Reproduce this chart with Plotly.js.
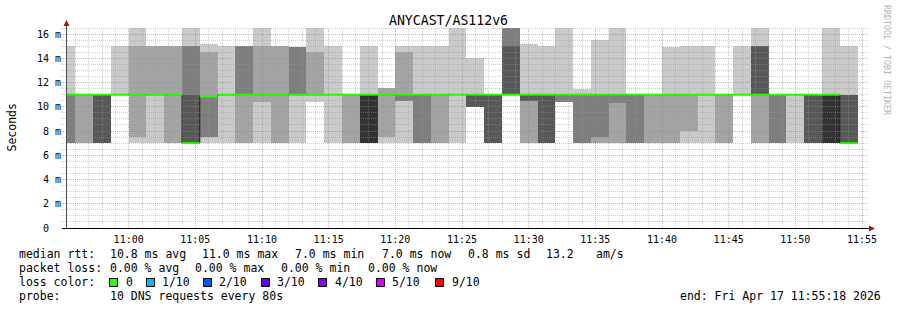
<!DOCTYPE html>
<html><head><meta charset="utf-8">
<script src="https://cdn.plot.ly/plotly-3.0.1.min.js"></script>
<style>html,body{margin:0;padding:0;background:#fff;}#chart{width:897px;height:310px;}</style>
</head><body><div id="chart"></div>
<script>
// ---- data ----
const dayUTC = [2026, 3, 17];
const rangeStart = '10:55:18';
const rangeEnd = '11:55:18';
const stepSeconds = 80;
const stepEnds = ['10:56:00','10:57:20','10:58:40','11:00:00','11:01:20','11:02:40','11:04:00','11:05:20','11:06:40','11:08:00',
 '11:09:20','11:10:40','11:12:00','11:13:20','11:14:40','11:16:00','11:17:20','11:18:40','11:20:00','11:21:20',
 '11:22:40','11:24:00','11:25:20','11:26:40','11:28:00','11:29:20','11:30:40','11:32:00','11:33:20','11:34:40',
 '11:36:00','11:37:20','11:38:40','11:40:00','11:41:20','11:42:40','11:44:00','11:45:20','11:46:40','11:48:00',
 '11:49:20','11:50:40','11:52:00','11:53:20','11:54:40'];
// 10 sorted ping round-trip times (ms) per step
const pingsSorted = [
 [7,7,7,11,11,11,11,11,11,15],
 [7,7,11,11,11,11,11,11,11,11],
 [7.05,7.05,7.05,7.05,11,11,11,11,11,11],
 [11,11,11,11,11,11,11,11,11,15],
 [7,7.5,11,11,11,11,11,11,15,16.5],
 [7,11,11,11,11,11,11,11,15,15],
 [7,7,11,11,11,11,11,11,15,15],
 [7,7,7,7,7,7,11,15,15,16.5],
 [7,7.5,7.5,10.85,10.85,10.85,10.85,10.85,14.5,15.15],
 [7,11,11,11,11,11,11,11,11,15],
 [7,7,11,11,11,11,11,15,15,15],
 [7,10.4,11,11,11,11,11,11,15,16.5],
 [7,7,11,11,11,11,11,11,15,15],
 [7,11,11,11,11,11,11,14.9,14.9,14.9],
 [10.4,11,11,11,11,11,11,11,14.5,16.5],
 [7,11,11,11,11,11,11,11,11,15],
 [7,7,11,11,11,11,11,11,11,11],
 [7,7,7,7,7,11,11,11,11,15],
 [7,7.5,11,11,11,11,11,11,11.55,11.55],
 [7,10.45,10.45,11,11,11,11,11,14.5,15],
 [7,7,7,11,11,11,11,11,11,15],
 [7,7,11,11,11,11,11,11,11,15],
 [7,11,11,11,11,11,11,11,11,16.5],
 [10,10,10,10,11,11,11,11,11,14],
 [7,7,7,7,11,11,11,11,11,11],
 [11,11,11,11,11,11,15,16.5,16.5,16.5],
 [7.05,7.05,10.45,10.45,11,11,11,11,11,15.15],
 [7,7,7,7,11,11,11,11,11,15],
 [10.4,10.4,10.4,11,11,11,11,11,11,16.5],
 [7,7,7,11,11,11,11,11,11,11.5],
 [7,7,7.5,11,11,11,11,11,11,15.5],
 [7,7,10.3,11,11,11,11,11,11,16.5],
 [7,7,7,11,11,11,11,11,11,11],
 [7,7,11,11,11,11,11,11,11,11],
 [7,7,11,11,11,11,11,11,11,14.9],
 [7,8,11,11,11,11,11,11,11,15],
 [7,11,11,11,11,11,11,11,11,15],
 [7,7,11,11,11,11,11,11,11,11],
 [11,11,11,11,11,11,11,11,11,15],
 [7,7,11,11,11,11,15,15,15,16.5],
 [7,7,7,11,11,11,11,11,11,11],
 [7,11,11,11,11,11,11,11,11,11],
 [7,7,7,7,11,11,11,11,11,11],
 [7,7,7,7,7,11,11,11,11,16.5],
 [7,7,7,7,7,7,11,11,11,15]
];
const medianRtt = [11,11,11,11,11,11,11,7,10.85,11, 11,11,11,11,11,11,11,11,11,11, 11,11,11,11,11,11,11,11,11,11,
 11,11,11,11,11,11,11,11,11,11, 11,11,11,11,7];
const lossPerStep = [0,0,0,0,0,0,0,0,0,0, 0,0,0,0,0,0,0,0,0,0, 0,0,0,0,0,0,0,0,0,0, 0,0,0,0,0,0,0,0,0,0, 0,0,0,0,0];
const lossLevels = [0,1,2,3,4,5,9];
const lossLabels = ['0','1/10','2/10','3/10','4/10','5/10','9/10'];
const lossColors = ['#26ff00','#00b8ff','#0059ff','#5e00ff','#7e00ff','#dd00ff','#ff0000'];
const smokeGrays = ['#cacaca','#a4a4a4','#7e7e7e','#585858','#323232'];
const yTickVals = [0,2,4,6,8,10,12,14,16];
const yTickText = ['0\u00a0\u00a0','2 m','4 m','6 m','8 m','10 m','12 m','14 m','16 m'];
const chartTitle = 'ANYCAST/AS112v6';
const yTitle = 'Seconds';
const statLines = [
 [['median rtt:',16.7],['10.8 ms avg',107.7],['11.0 ms max',200],['7.0 ms min',293],['7.0 ms now',380],['0.8 ms sd',466],['13.2',543.5],['am/s',593.5]],
 [['packet loss:',16.7],['0.00 % avg',107.7],['0.00 % max',193.3],['0.00 % min',279.3],['0.00 % now',365.7]],
 [['loss color:',16.7]],
 [['probe:',16.7],['10 DNS requests every 80s',107.7],['end: Fri Apr 17 11:55:18 2026',678.3]]
];
const lossLegendX = [109,145.7,202.7,260.7,318.3,375.7,435];

// ---- helpers ----
function t(hms){const [h,m,s]=hms.split(':').map(Number);return Date.UTC(dayUTC[0],dayUTC[1],dayUTC[2],h,m,s);}
const L=66, R=866, T=28, B=228, YMAX=16.5;
function px(x){return (x-L)/(R-L);}
function py(y){return (B-y)/(B-T);}

// ---- traces ----
const traces=[];
const stepMs = stepSeconds*1000;
for(let i=0;i<5;i++){
  const xs=[],base=[],h=[];
  pingsSorted.forEach((p,k)=>{xs.push(t(stepEnds[k])-stepMs/2);base.push(p[i]);h.push(p[9-i]-p[i]);});
  traces.push({type:'bar',x:xs,y:h,base:base,width:stepMs,marker:{color:smokeGrays[i],line:{width:0}},hoverinfo:'skip',showlegend:false});
}
const mx=[],my=[];
medianRtt.forEach((m,k)=>{const e=t(stepEnds[k]);mx.push(e-stepMs,e);my.push(m,m);});
traces.push({type:'scatter',mode:'lines',x:mx,y:my,line:{color:'#202020',width:1},hoverinfo:'skip',showlegend:false});
lossLevels.forEach((lv,li)=>{
  const gx=[],gy=[];
  medianRtt.forEach((m,k)=>{if(lossPerStep[k]===lv){const e=t(stepEnds[k]);gx.push(e-stepMs,e,null);gy.push(m,m,null);}});
  if(gx.length) traces.push({type:'scatter',mode:'lines',x:gx,y:gy,line:{color:lossColors[li],width:2},hoverinfo:'skip',showlegend:false});
});

// ---- decorations: grid drawn above the smoke, as rrdtool does (snapped to pixel rows) ----
const shapes=[];
const minorGrid='rgba(150,150,150,0.45)', majorGrid='rgba(240,90,90,0.55)';
const t0=t(rangeStart), t1=t(rangeEnd);
for(let ms=t('10:56:00'); ms<=t1; ms+=60000){
  const major = (new Date(ms).getUTCMinutes()%5===0);
  const xp = Math.floor(L + (ms-t0)/(t1-t0)*(R-L)) + 0.5;
  shapes.push({type:'line',layer:'above',xref:'paper',yref:'paper',x0:px(xp),x1:px(xp),y0:0,y1:1,line:{color:major?majorGrid:minorGrid,width:1,dash:'1px,1px'}});
}
for(let v=0.5; v<=YMAX; v+=0.5){
  const major = (v%2===0);
  const yp = Math.floor(B - v/YMAX*(B-T)) + 0.5;
  shapes.push({type:'line',layer:'above',xref:'paper',yref:'paper',x0:px(61),x1:px(868),y0:py(yp),y1:py(yp),line:{color:major?majorGrid:minorGrid,width:1,dash:'1px,1px'}});
}
// axes + arrows
shapes.push({type:'line',layer:'above',xref:'paper',yref:'paper',x0:px(66.5),x1:px(66.5),y0:py(228),y1:py(23),line:{color:'#505050',width:1}});
shapes.push({type:'line',layer:'above',xref:'paper',yref:'paper',x0:px(62),x1:px(870),y0:py(228.5),y1:py(228.5),line:{color:'#000000',width:1}});
function P(x,y){return px(x)+','+py(y);}
shapes.push({type:'path',layer:'above',xref:'paper',yref:'paper',path:'M'+P(63.5,26)+' L'+P(69.5,26)+' L'+P(66.5,20)+' Z',fillcolor:'#a01818',line:{width:0}});
shapes.push({type:'path',layer:'above',xref:'paper',yref:'paper',path:'M'+P(869,225.5)+' L'+P(869,231.5)+' L'+P(875,228.5)+' Z',fillcolor:'#a01818',line:{width:0}});
// loss colour boxes
lossLegendX.forEach((x,i)=>{
  shapes.push({type:'rect',xref:'paper',yref:'paper',x0:px(Math.round(x)+0.5),x1:px(Math.round(x)+8.5),y0:py(278.5),y1:py(286.5),fillcolor:lossColors[i],line:{color:'#000',width:1}});
});

const annotations=[];
const mono='DejaVu Sans Mono';
const lineY=[254,268,282,295.5];
statLines.forEach((line,li)=>{
  line.forEach(([txt,x])=>annotations.push({text:txt,xref:'paper',yref:'paper',x:px(x),y:py(lineY[li]),xanchor:'left',yanchor:'middle',showarrow:false,font:{family:mono,size:11.5,color:'#000'}}));
});
lossLabels.forEach((lb,i)=>annotations.push({text:lb,xref:'paper',yref:'paper',x:px(lossLegendX[i]+14.5),y:py(lineY[2]),xanchor:'left',yanchor:'middle',showarrow:false,font:{family:mono,size:11.5,color:'#000'}}));
annotations.push({text:yTitle,xref:'paper',yref:'paper',x:px(11.5),y:py(127),xanchor:'center',yanchor:'middle',textangle:-90,showarrow:false,font:{family:mono,size:11.5,color:'#000'}});
annotations.push({text:'RRDTOOL / TOBI OETIKER',xref:'paper',yref:'paper',x:px(887),y:py(60),xanchor:'center',yanchor:'middle',textangle:90,showarrow:false,font:{family:mono,size:8.3,color:'#b4b4b4'}});

const layout={
  width:897,height:310,margin:{l:66,r:31,t:28,b:82,pad:0},
  paper_bgcolor:'#ffffff',plot_bgcolor:'#ffffff',
  barmode:'overlay',bargap:0,showlegend:false,
  font:{family:mono,size:10,color:'#000'},
  title:{text:chartTitle,font:{family:mono,size:13.2,color:'#000'},x:0.5,xref:'container',xanchor:'center',y:1-20/310,yref:'container',yanchor:'middle'},
  xaxis:{type:'date',range:[t0,t1],tickmode:'linear',tick0:t('11:00:00'),dtick:300000,tickformat:'%H:%M',
    showgrid:false,zeroline:false,showline:false,ticks:'',ticklabelstandoff:4,tickfont:{family:mono,size:10,color:'#000'},fixedrange:true},
  yaxis:{range:[0,YMAX],tickmode:'array',tickvals:yTickVals,ticktext:yTickText,showgrid:false,zeroline:false,showline:false,ticks:'',
    ticklabelstandoff:4,tickfont:{family:mono,size:10,color:'#000'},fixedrange:true},
  shapes:shapes,annotations:annotations
};
Plotly.newPlot('chart',traces,layout,{staticPlot:true,displayModeBar:false});
</script></body></html>
